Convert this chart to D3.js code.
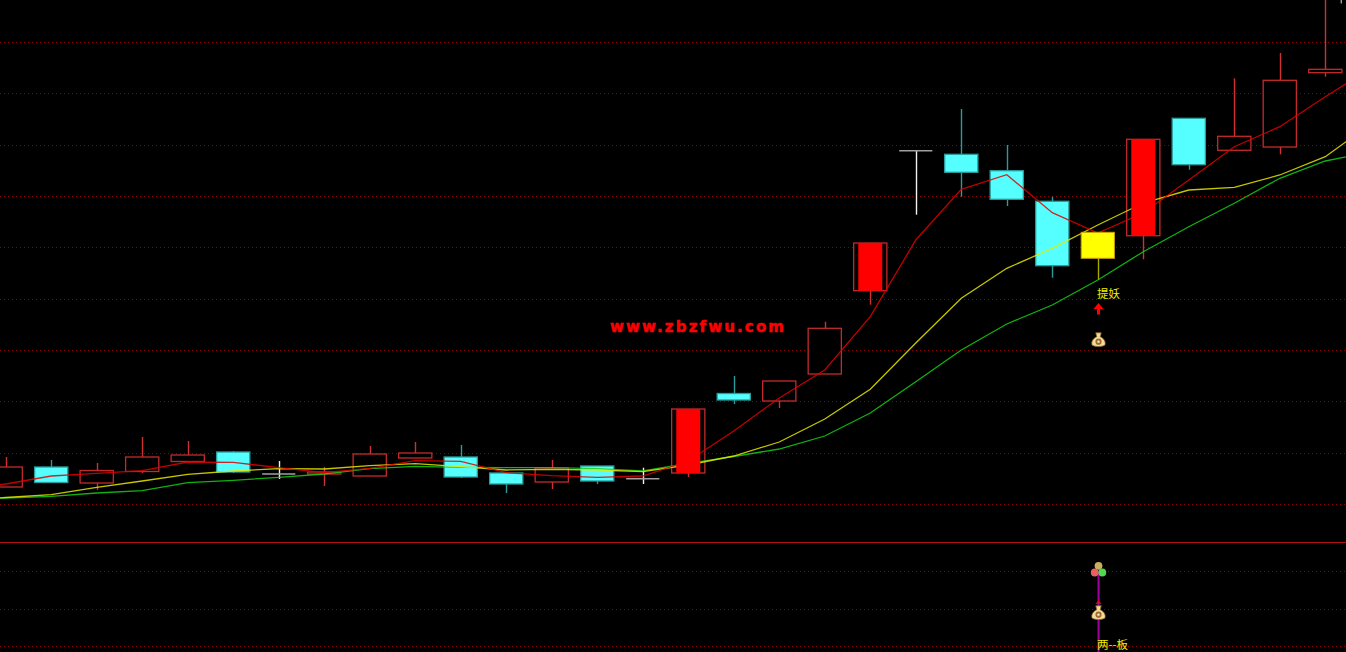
<!DOCTYPE html>
<html><head><meta charset="utf-8">
<script src="https://cdn.jsdelivr.net/npm/d3@7/dist/d3.min.js"></script>
<style>html,body{margin:0;padding:0;background:#000;overflow:hidden}svg{display:block}</style>
</head><body><div id="chart"></div>
<script>
// candle values, one entry per session
const opens  = [1.75,3.75,2.15,3.3,4.3,5.25,3.05,3.05,2.85,4.65,4.75,3.15,2.25,3.85,2.58,3.15,11.1,10.35,13.05,21.38,35.38,35.02,33.38,30.32,27.22,26.88,38.62,35.42,35.75,43.18];
const closes = [3.75,2.2,3.4,4.75,4.95,3.25,3.05,3.25,5.05,5.15,2.75,2.05,3.65,2.35,2.58,9.55,10.45,12.35,17.62,26.15,35.38,33.22,30.52,23.88,24.62,36.52,33.98,36.82,42.42,43.52];
const highs  = [4.75,4.45,4.15,6.75,6.35,5.35,4.35,3.75,5.85,6.25,5.95,3.15,4.45,3.85,3.68,9.55,12.85,12.35,18.28,26.15,35.38,39.55,35.95,30.78,27.22,36.52,38.62,42.62,45.15,51];
const lows   = [1.75,2.15,1.45,3.15,4.15,3.15,2.55,1.85,2.85,4.65,2.65,1.15,1.55,2.05,2.05,2.75,10.05,9.65,13.05,19.98,28.98,30.78,29.85,22.68,22.45,24.52,33.48,35.42,35.02,42.78];
const solidSessions = [15,19,25];
const signalSession = 24;
// moving averages, sessions -1 to 30
const maFast = [1.45,2.05,2.85,3.12,3.38,4.25,4.22,3.68,3.18,3.62,4.38,4.32,3.18,2.88,2.72,2.85,4.35,7.35,10.65,13.45,18.78,26.45,31.52,32.98,29.18,27.15,29.15,32.45,35.78,37.78,40.78,43.65];
const maMid  = [0.45,0.7,0.98,1.72,2.35,3.02,3.35,3.58,3.55,3.88,4.08,3.78,3.45,3.52,3.45,3.28,3.95,4.85,6.25,8.55,11.52,16.15,20.62,23.62,25.62,27.95,30.15,31.45,31.72,32.95,34.78,38.05];
const maSlow = [0.5,0.65,0.82,1.15,1.38,2.18,2.42,2.72,3.05,3.58,3.82,3.72,3.68,3.68,3.58,3.35,4.12,4.8,5.55,6.85,9.15,12.28,15.45,18.05,19.95,22.45,25.28,27.78,30.12,32.62,34.35,35.25];
const gridPrices = [0,5.135,10.27,15.405,20.54,25.675,30.81,35.945,41.08,46.215];
const gridLower = [1,2,3];
const lowerBaseline = 3.78;
const signalLabel = "提妖";
const lowerLabel = "两--板";
const watermark = "www.zbzfwu.com";

const W = 1346, H = 652;
const x = d3.scaleLinear().domain([0,29]).range([5.7,1325.3]);
const y = d3.scaleLinear().domain([0,50.45]).range([504.5,0]);
const yLow = d3.scaleLinear().domain([0,4]).range([684.4,533.6]);
const svg = d3.select("#chart").append("svg").attr("width",W).attr("height",H).style("background","#000");
const halfBody = 16.6, inset = 4.6;
const GRID="#900000", UP="#c42a2a", CYAN="#55ffff", TEAL="#2b9c9c";

svg.selectAll(".g").data(gridPrices).join("line").attr("class","g").attr("x1",0).attr("x2",W)
  .attr("y1",d=>Math.floor(y(d))+.5).attr("y2",d=>Math.floor(y(d))+.5)
  .attr("stroke",GRID).attr("stroke-dasharray","1 3");
svg.selectAll(".gl").data(gridLower).join("line").attr("class","gl").attr("x1",0).attr("x2",W)
  .attr("y1",d=>Math.floor(yLow(d))+.5).attr("y2",d=>Math.floor(yLow(d))+.5)
  .attr("stroke",GRID).attr("stroke-dasharray","1 3");
svg.append("line").attr("x1",0).attr("x2",W)
  .attr("y1",Math.round(yLow(lowerBaseline))+.5).attr("y2",Math.round(yLow(lowerBaseline))+.5)
  .attr("stroke","#b01010");

const sessions = opens.map((o,i)=>({i,o,c:closes[i],h:highs[i],l:lows[i],
  kind: i===signalSession?"signal": o===closes[i]?"doji": closes[i]>o?"up":"down",
  solid: solidSessions.includes(i)}));
const wickColor = {up:"#d03030",down:TEAL,doji:"#f0f0f0",signal:"#a8a800"};

const candleLayer = svg.append("g");
const cs = candleLayer.selectAll("g").data(sessions).join("g");
cs.append("line").attr("x1",d=>Math.round(x(d.i))+.5).attr("x2",d=>Math.round(x(d.i))+.5)
  .attr("y1",d=>y(d.h)).attr("y2",d=>y(d.l)).attr("stroke",d=>wickColor[d.kind]).attr("stroke-width",1.4);
cs.filter(d=>d.kind!=="doji").append("rect")
  .attr("x",d=>x(d.i)-halfBody).attr("width",halfBody*2)
  .attr("y",d=>y(Math.max(d.o,d.c))).attr("height",d=>Math.abs(y(d.o)-y(d.c)))
  .attr("fill",d=>d.kind==="down"?CYAN:"#000")
  .attr("stroke",d=>d.kind==="down"?TEAL:d.kind==="signal"?"none":UP).attr("stroke-width",1.3);
cs.filter(d=>d.kind==="doji").append("line")
  .attr("x1",d=>x(d.i)-halfBody).attr("x2",d=>x(d.i)+halfBody)
  .attr("y1",d=>y(d.o)).attr("y2",d=>y(d.o)).attr("stroke","#a0a0a0").attr("stroke-width",1.5);

const maLine = d3.line().x((d,i)=>x(i-1)).y(d=>y(d)).curve(d3.curveLinear);
[[maSlow,"#14d014"],[maMid,"#e8e800"],[maFast,"#e00000"]].forEach(([a,c])=>{
  svg.append("path").datum(a).attr("d",maLine).attr("fill","none").attr("stroke",c).attr("stroke-width",1.3).attr("stroke-opacity",.85);
});

// solid bodies cover the averages
const bodyLayer = svg.append("g");
bodyLayer.selectAll(".s").data(sessions.filter(d=>d.solid)).join("rect").attr("class","s")
  .attr("x",d=>x(d.i)-halfBody+inset).attr("width",(halfBody-inset)*2)
  .attr("y",d=>y(d.c)).attr("height",d=>y(d.o)-y(d.c)).attr("fill","#ff0000");
bodyLayer.selectAll(".y").data(sessions.filter(d=>d.kind==="signal")).join("rect").attr("class","y")
  .attr("x",d=>x(d.i)-halfBody).attr("width",halfBody*2)
  .attr("y",d=>y(d.o)).attr("height",d=>y(d.c)-y(d.o)).attr("fill","#ffff00")
  .attr("stroke","#c8a000").attr("stroke-width",1);

const sx = Math.round(x(signalSession))+.5;
// signal label, arrow, money bag
svg.append("text").attr("x",sx-1.5).attr("y",y(20.7)).text(signalLabel)
  .attr("fill","#f0f000").attr("font-family","'Noto Sans CJK SC'").attr("font-size",11.5);
svg.append("path").attr("transform",`translate(${sx},${y(20.15)})`)
  .attr("d","M0,0L5,6L1.5,6L1.5,11.5L-1.5,11.5L-1.5,6L-5,6Z").attr("fill","#ff0000");
function bag(g){
  g.append("path").attr("d","M-2.5,-6.5L2.5,-6.5L1.5,-3C5,-1.5 6.5,1.5 6,4C5.5,6.5 -5.5,6.5 -6,4C-6.5,1.5 -5,-1.5 -1.5,-3Z")
    .attr("fill","#f2dc96").attr("stroke","#8a6a30").attr("stroke-width",.7);
  g.append("circle").attr("cy",1.5).attr("r",2.8).attr("fill","#a06a30");
  g.append("circle").attr("cy",1.5).attr("r",1.1).attr("fill","#f8eec8");
}
svg.append("g").attr("transform",`translate(${sx},${y(16.45)}) scale(1.1)`).call(bag);

// lower panel
svg.append("line").attr("x1",sx).attr("x2",sx).attr("y1",yLow(3)).attr("y2",H).attr("stroke","#a000a0").attr("stroke-width",2);
const tri = svg.append("g").attr("transform",`translate(${sx},${yLow(3)})`);
[[0,-5.5,"#c8b060"],[-3.8,1.2,"#e86060"],[3.8,1.2,"#50d850"]].forEach(([dx,dy,c])=>{
  tri.append("circle").attr("cx",dx).attr("cy",dy).attr("r",3.9).attr("fill",c);
});
svg.append("path").attr("transform",`translate(${sx},${yLow(2)-7})`).attr("d","M0,-2L3,2L-3,2Z").attr("fill","#e00030");
svg.append("g").attr("transform",`translate(${sx},${yLow(2)+4}) scale(1.1)`).call(bag);
svg.append("text").attr("x",sx-1.5).attr("y",yLow(.95)).text(lowerLabel)
  .attr("fill","#f0f000").attr("font-family","'Noto Sans CJK SC'").attr("font-size",11.5);

svg.append("text").attr("x",x(13.28)).attr("y",y(17.3)).text(watermark)
  .attr("fill","#ff0000").attr("stroke","#ff0000").attr("stroke-width",.5)
  .attr("font-family","'DejaVu Sans'").attr("font-weight",700).attr("font-size",15)
  .attr("textLength",174).attr("lengthAdjust","spacing");
svg.append("line").attr("x1",x(29.35)).attr("x2",x(29.35)).attr("y1",y(50.45)).attr("y2",y(50.1)).attr("stroke","#ddd");
</script></body></html>
